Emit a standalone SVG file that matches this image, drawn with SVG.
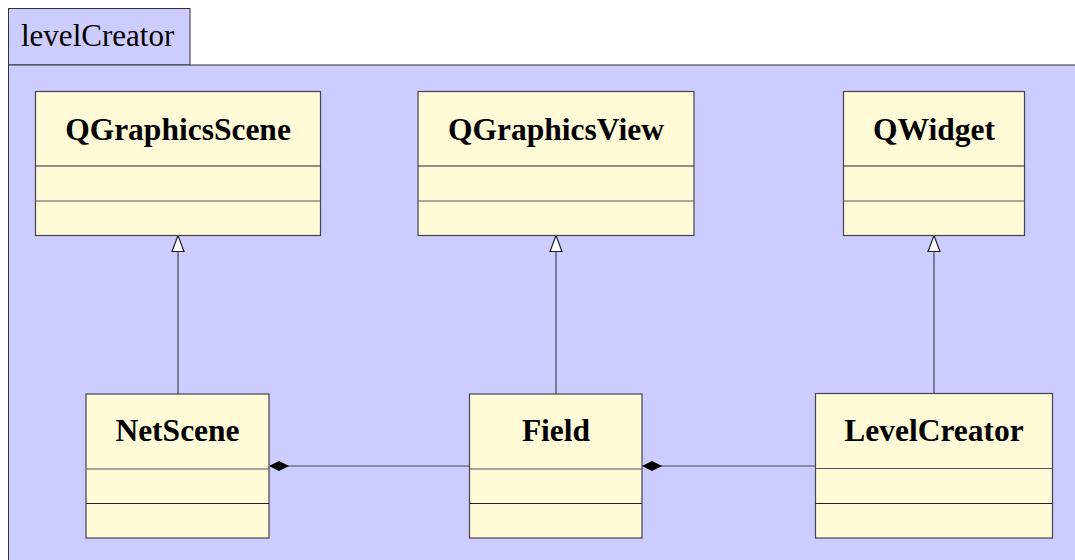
<svg xmlns="http://www.w3.org/2000/svg" width="1075" height="560" viewBox="0 0 1075 560">
  <style>
    .pkg { fill: #ccccff; stroke: #333333; stroke-width: 1; }
    .cls { fill: #fffad7; stroke: #444450; stroke-width: 1.2; }
    .sep { stroke: #222222; stroke-width: 1; }
    .sep2 { stroke: #555555; stroke-width: 1.2; }
    .edge { stroke: #444455; stroke-width: 1.2; fill: none; }
  </style>
  <defs>
    <!-- hollow triangle for generalization -->
    <marker id="inherit" markerWidth="18" markerHeight="14" refX="17" refY="7" orient="auto" markerUnits="userSpaceOnUse" viewBox="0 0 18 14">
      <path d="M17,7 L1,1 L1,13 Z" fill="#ffffff" stroke="#222233" stroke-width="1.2"/>
    </marker>
    <!-- filled diamond for composition -->
    <marker id="compose" markerWidth="21" markerHeight="11" refX="20" refY="5.5" orient="auto" markerUnits="userSpaceOnUse" viewBox="0 0 21 11">
      <path d="M0.5,5.5 L10.5,0.5 L20.5,5.5 L10.5,10.5 Z" fill="#000000"/>
    </marker>
  </defs>

  <rect width="1075" height="560" fill="#ffffff"/>

  <!-- package frame -->
  <g id="pkg-levelCreator">
    <rect class="pkg" x="8.5" y="8.5" width="181.5" height="56.5"/>
    <rect class="pkg" x="8.5" y="65" width="1080" height="510"/>
    <text x="21" y="46" font-family="Liberation Serif, Times New Roman, serif" font-size="31" fill="#000">levelCreator</text>
  </g>

  <!-- connectors -->
  <g id="connectors">
    <line class="edge" x1="178" y1="394" x2="178" y2="235.5" marker-end="url(#inherit)"/>
    <line class="edge" x1="556" y1="394" x2="556" y2="235.5" marker-end="url(#inherit)"/>
    <line class="edge" x1="934" y1="393" x2="934" y2="235.5" marker-end="url(#inherit)"/>
    <line class="edge" x1="469" y1="466" x2="269.5" y2="466" marker-end="url(#compose)"/>
    <line class="edge" x1="815" y1="466" x2="642.5" y2="466" marker-end="url(#compose)"/>
  </g>

  <g font-family="Liberation Serif, Times New Roman, serif" font-size="31.5" font-weight="bold" text-anchor="middle" fill="#000">
    <g id="QGraphicsScene">
      <rect class="cls" x="35.5" y="91.5" width="285" height="144"/>
      <line class="sep" x1="35.5" y1="166" x2="320.5" y2="166"/>
      <line class="sep2" x1="35.5" y1="201" x2="320.5" y2="201"/>
      <text x="178" y="139.5">QGraphicsScene</text>
    </g>

    <g id="QGraphicsView">
      <rect class="cls" x="418" y="91.5" width="276" height="144"/>
      <line class="sep" x1="418" y1="166" x2="694" y2="166"/>
      <line class="sep2" x1="418" y1="201" x2="694" y2="201"/>
      <text x="556" y="139.5">QGraphicsView</text>
    </g>

    <g id="QWidget">
      <rect class="cls" x="843.5" y="91.5" width="181" height="144"/>
      <line class="sep" x1="843.5" y1="166" x2="1024.5" y2="166"/>
      <line class="sep2" x1="843.5" y1="201" x2="1024.5" y2="201"/>
      <text x="934" y="139.5">QWidget</text>
    </g>

    <g id="NetScene">
      <rect class="cls" x="86" y="394" width="183" height="144"/>
      <line class="sep2" x1="86" y1="469" x2="269" y2="469"/>
      <line class="sep" x1="86" y1="503.5" x2="269" y2="503.5"/>
      <text x="177.5" y="441">NetScene</text>
    </g>

    <g id="Field">
      <rect class="cls" x="469.5" y="394" width="172.5" height="144"/>
      <line class="sep2" x1="469.5" y1="469" x2="642" y2="469"/>
      <line class="sep" x1="469.5" y1="503.5" x2="642" y2="503.5"/>
      <text x="556" y="441">Field</text>
    </g>

    <g id="LevelCreator">
      <rect class="cls" x="815.5" y="393.5" width="237" height="144.5"/>
      <line class="sep2" x1="815.5" y1="468.5" x2="1052.5" y2="468.5"/>
      <line class="sep" x1="815.5" y1="503.5" x2="1052.5" y2="503.5"/>
      <text x="934" y="441">LevelCreator</text>
    </g>
  </g>
</svg>
